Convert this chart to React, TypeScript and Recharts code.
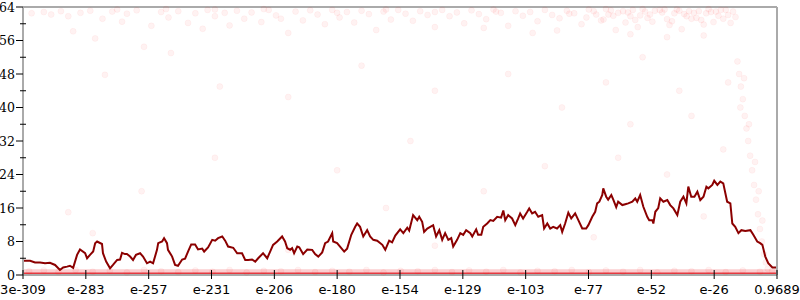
import React from 'react';
import { ComposedChart, Line, Scatter, XAxis, YAxis, ReferenceLine, ReferenceArea } from 'recharts';

const xTickValues = [-308.52, -282.81, -257.1, -231.39, -205.68, -179.98, -154.27, -128.56, -102.85, -77.14, -51.43, -25.72, -0.0137];
const xTickLabels = ['3e-309', 'e-283', 'e-257', 'e-231', 'e-206', 'e-180', 'e-154', 'e-129', 'e-103', 'e-77', 'e-52', 'e-26', '0.9689'];
const yTickValues = [0, 4, 8, 12, 16, 20, 24, 28, 32, 36, 40, 44, 48, 52, 56, 60, 64];

const linePoints: [number, number][] = [
  [-308.5, 3.4], [-305.6, 3.4], [-303.6, 3.0], [-301.5, 3.0], [-299.5, 2.8], [-297.5, 2.9], [-295.4, 2.4], [-293.4, 1.2], [-292.1, 1.8], [-290.5, 2.0], [-289.3, 2.2], [-288.0, 1.7], [-286.4, 4.8], [-285.2, 6.1], [-283.1, 5.2], [-282.3, 4.0], [-281.1, 4.8], [-279.8, 5.6], [-279.0, 7.6], [-278.2, 8.0], [-276.2, 7.4], [-275.8, 5.2], [-274.5, 3.2], [-272.9, 1.6], [-271.7, 2.4], [-270.0, 3.6], [-268.8, 3.7], [-268.0, 5.3], [-266.8, 5.0], [-266.0, 5.0], [-264.7, 4.4], [-263.5, 3.6], [-262.3, 4.8], [-260.6, 5.2], [-259.4, 4.4], [-257.8, 2.8],
  [-256.5, 3.2], [-255.3, 2.8], [-253.7, 6.0], [-253.2, 7.6], [-251.6, 8.0], [-250.8, 8.8], [-249.6, 7.6], [-249.2, 6.0], [-247.5, 4.4], [-246.3, 2.4], [-245.1, 2.2], [-243.4, 3.7], [-242.2, 3.9], [-241.0, 5.6], [-239.7, 7.3], [-238.1, 7.3], [-236.9, 6.1], [-235.2, 6.3], [-234.4, 5.6], [-232.8, 6.6], [-231.1, 8.4], [-229.9, 8.2], [-228.7, 8.8], [-227.0, 9.2], [-225.8, 8.2], [-224.6, 6.8], [-222.5, 6.5], [-220.9, 5.2], [-218.9, 5.2], [-217.6, 3.6], [-216.4, 3.6], [-214.8, 3.7], [-213.5, 3.2], [-212.3, 4.0], [-210.3, 5.2], [-208.6, 4.0], [-207.4, 5.6],
  [-206.2, 7.2], [-204.5, 8.0], [-202.5, 9.2], [-201.3, 8.0], [-200.4, 6.4], [-199.2, 6.0], [-198.4, 6.4], [-197.6, 5.2], [-196.3, 6.8], [-195.5, 6.6], [-193.9, 5.0], [-192.2, 6.1], [-190.2, 6.0], [-189.0, 5.0], [-187.7, 4.4], [-186.1, 5.4], [-184.9, 7.6], [-183.7, 8.0], [-182.0, 10.0], [-181.6, 8.0], [-180.0, 7.6], [-178.8, 6.8], [-177.1, 5.6], [-175.9, 6.3], [-174.2, 9.6], [-172.6, 11.5], [-171.8, 12.3], [-170.6, 11.5], [-169.3, 9.2], [-167.7, 10.7], [-166.5, 9.2], [-165.2, 8.4], [-163.6, 8.2], [-161.5, 7.2], [-160.3, 6.0], [-158.7, 8.2], [-157.5, 7.8], [-156.2, 9.4],
  [-154.2, 10.9], [-152.9, 10.0], [-151.3, 11.3], [-150.5, 10.6], [-148.9, 14.3], [-147.2, 13.1], [-146.4, 13.9], [-145.2, 12.7], [-144.4, 10.3], [-143.1, 11.1], [-141.9, 11.5], [-140.7, 11.9], [-139.5, 9.2], [-138.2, 10.7], [-137.0, 8.4], [-135.8, 10.0], [-134.5, 8.4], [-133.3, 8.8], [-132.5, 6.8], [-130.9, 8.4], [-129.6, 10.0], [-128.4, 9.6], [-127.2, 10.7], [-125.5, 10.0], [-124.7, 9.2], [-123.1, 10.9], [-122.3, 9.6], [-121.0, 9.6], [-120.2, 11.5], [-118.6, 12.3], [-117.3, 13.1], [-116.1, 12.9], [-114.5, 13.9], [-112.9, 13.7], [-112.0, 15.4], [-111.2, 13.1], [-110.0, 14.3], [-108.4, 13.5], [-107.1, 11.9], [-105.9, 13.5],
  [-105.1, 14.7], [-103.9, 13.5], [-102.2, 15.1], [-101.4, 15.9], [-100.2, 14.7], [-99.0, 15.1], [-97.7, 13.9], [-96.1, 14.3], [-95.3, 11.1], [-94.0, 12.3], [-92.8, 11.1], [-91.6, 11.5], [-90.0, 11.1], [-88.7, 11.9], [-87.9, 10.3], [-86.7, 12.3], [-85.4, 14.9], [-84.2, 13.5], [-82.6, 14.7], [-81.3, 13.1], [-79.7, 11.1], [-78.1, 11.1], [-77.2, 11.9], [-75.6, 13.9], [-74.4, 15.1], [-73.6, 17.1], [-72.7, 17.5], [-71.5, 19.1], [-71.1, 20.7], [-69.9, 18.7], [-69.1, 18.0], [-67.8, 19.1], [-67.0, 18.0], [-65.8, 16.2], [-65.0, 17.5], [-63.3, 16.7], [-62.1, 16.9], [-60.9, 17.1], [-59.2, 17.5], [-58.0, 18.3], [-57.2, 17.5], [-56.0, 19.1], [-54.7, 16.3], [-53.1, 13.9], [-52.3, 13.1],
  [-51.0, 13.1], [-50.6, 12.3], [-49.8, 15.1], [-48.6, 16.0], [-47.8, 18.3], [-46.5, 17.5], [-44.9, 17.9], [-43.7, 16.7], [-42.4, 15.9], [-40.8, 14.3], [-39.6, 17.5], [-38.3, 18.7], [-37.1, 17.1], [-36.3, 21.1], [-35.1, 18.7], [-33.8, 18.7], [-32.6, 19.9], [-31.4, 17.9], [-30.1, 18.7], [-28.9, 21.1], [-28.1, 20.7], [-26.5, 21.5], [-25.7, 22.5], [-24.4, 21.5], [-23.2, 22.3], [-22.0, 21.9], [-20.4, 17.5], [-19.1, 17.1], [-18.3, 12.3], [-17.1, 11.5], [-15.8, 10.0], [-14.6, 10.7], [-13.0, 10.5], [-10.9, 10.7], [-9.7, 9.6], [-8.1, 8.0], [-6.9, 7.6], [-6.0, 7.2], [-4.8, 4.4], [-3.6, 2.8], [-1.9, 1.8], [-0.0137, 1.8],
];

const topDots: [number, number][] = [
  [-305, 62.5], [-300, 62.8], [-297, 62.2], [-293, 63], [-290, 61.8], [-288, 58.2], [-285, 62.6], [-281, 63.1], [-279, 56.5], [-276, 61.2], [-272, 62.9], [-268, 60.5], [-266, 62.4], [-262, 63.2], [-259, 54.5], [-256, 59.5], [-252, 62.8], [-249, 61.5], [-245, 63], [-241, 60.2], [-238, 62.5], [-235, 58.8], [-233, 63.3], [-230, 61.8], [-226, 62.6], [-224, 59.6], [-221, 63.1], [-218, 61.2], [-215, 62.7], [-211, 60.4], [-208, 63.3], [-205, 62], [-203, 61.2], [-200, 57.8], [-197, 62.9], [-194, 60.8], [-191, 63.2], [-188, 62.2], [-185, 59.9], [-182, 63.3], [-179, 61.5], [-176, 62.8], [-173, 60.3], [-170, 63.1], [-167, 62.3], [-164, 58.5], [-161, 62.9], [-158, 61], [-155, 63.3], [-152, 62.4], [-149, 60.7], [-146, 63], [-143, 62.1], [-140, 59.2], [-137, 63.3], [-134, 61.8], [-131, 62.7], [-128, 60.1], [-125, 63.2], [-122, 62.3], [-119, 61.1], [-116, 63.4], [-113, 62.6], [-110, 59.5], [-107, 63], [-104, 61.9], [-101, 62.8], [-98, 60.6], [-95, 63.3], [-92, 62.1], [-89, 61.3], [-86, 63.1], [-83, 62.5], [-80, 59.9], [-77, 63.4], [-74, 62.2], [-71, 61], [-68, 63.2], [-65, 62.6], [-62, 60.3], [-59, 63.3], [-56, 62], [-53, 61.4], [-50, 63.1], [-47, 62.7], [-44, 59.7], [-41, 63.4], [-38, 62.3], [-35, 61.2], [-32, 63], [-29, 62.5], [-26, 60.4], [-23, 63.3], [-20, 62.1], [-17, 61.6],
  [-78, 61.5], [-75, 63], [-72, 60.8], [-69, 62.2], [-66, 58.5], [-63, 63], [-60, 61.8], [-57, 59.2], [-54, 62.9], [-51, 60.5], [-48, 63.3], [-45, 61.1], [-42, 62.5], [-39, 58.7], [-36, 63], [-33, 61.4], [-30, 59.8], [-27, 62.8], [-24, 61.9], [-21, 63.3], [-19, 60.2], [-60, 57.5], [-45, 56.8], [-30, 57.2], [-90, 58.4], [-100, 57.8], [-120, 59], [-140, 62.8], [-160, 63.4], [-180, 62.6], [-210, 63.5], [-230, 63.4], [-250, 63.5], [-270, 63.4], [-115, 62.9], [-85, 62.4], [-70, 63.5], [-55, 63.5], [-40, 63.1], [-25, 62.9],
  [-67, 61.9], [-61, 62.7], [-58, 60.9], [-52, 62.2], [-46, 63.4], [-43, 60.6], [-37, 61.8], [-34, 62.6], [-31, 60.9], [-28, 63.5], [-22, 61.2], [-18, 62.9],
];

const midDots: [number, number][] = [
  [-275, 47.8], [-248, 53], [-228, 45], [-200, 42.5], [-170, 50], [-140, 44], [-110, 48], [-88, 40], [-70, 46], [-55, 52], [-40, 44], [-22, 30], [-260, 20], [-290, 15], [-230, 28], [-180, 25], [-150, 32], [-120, 20], [-95, 26], [-60, 36], [-45, 24], [-30, 14], [-140, 7], [-200, 6], [-280, 10], [-160, 16], [-75, 9], [-35, 38], [-65, 28], [-20, 46],
];

const streakDots: [number, number][] = [
  [-16.2, 51], [-15.5, 48], [-14.8, 45], [-14, 42], [-13.2, 38], [-12.5, 35], [-11.8, 32], [-11, 28.5], [-10.2, 25], [-9.4, 21.5], [-8.6, 18], [-7.8, 14.5], [-7, 11], [-6.2, 8], [-5.4, 5], [-4.6, 3], [-3.8, 1.5], [-15, 40], [-13.5, 47], [-11.5, 36], [-9, 27], [-7.5, 20], [-6, 13],
];

const bottomDots: [number, number][] = [
  [-306, 0.9], [-300, 1.1], [-294, 0.7], [-287, 1.2], [-280, 0.8], [-273, 1.0], [-266, 0.6], [-259, 1.2], [-252, 0.9], [-245, 0.7], [-238, 1.1], [-231, 0.8], [-224, 1.2], [-217, 0.6], [-210, 1.0], [-203, 0.9], [-196, 1.2], [-189, 0.7], [-182, 1.0], [-175, 0.8], [-168, 1.2], [-161, 0.6], [-154, 1.0], [-147, 0.9], [-140, 1.2], [-133, 0.7], [-126, 1.1], [-119, 0.8], [-112, 1.2], [-105, 0.6], [-98, 1.0], [-91, 0.9], [-84, 1.2], [-77, 0.7], [-70, 1.1], [-63, 0.8], [-56, 1.2], [-49, 0.6], [-42, 1.0], [-35, 0.9], [-28, 1.2], [-21, 0.7], [-14, 1.1], [-7, 0.8], [-2, 1.0],
];

const bottomBand: [number, number][] = [[-308.52, 0.3], [-0.0137, 0.3]];

const toObjs = (arr: [number, number][]) => arr.map(([x, y]) => ({ x, y }));

const Dot = (p: any) => (
  <circle cx={p.cx} cy={p.cy} r={3} fill="#ff0000" fillOpacity={0.05} stroke="#ff0000" strokeOpacity={0.04} strokeWidth={1} />
);

const LeftTick = (p: any) => {
  const { x, y, payload } = p;
  const v = payload.value;
  const major = v % 8 === 0;
  return (
    <g>
      {major ? (
        <line x1={x - 7} x2={x} y1={y} y2={y} stroke="#000" strokeWidth={1} />
      ) : (
        <line x1={x - 3} x2={x + 3} y1={y} y2={y} stroke="#000" strokeWidth={1} />
      )}
      {major && (
        <text x={x - 8} y={y} dy={4.5} textAnchor="end" fontFamily="DejaVu Serif" fontSize={12.5} fill="#000">
          {v}
        </text>
      )}
    </g>
  );
};

const RightTick = (p: any) => {
  const { x, y, payload } = p;
  const major = payload.value % 8 === 0;
  const h = major ? 6 : 3;
  return <line x1={x - h} x2={x + h} y1={y} y2={y} stroke="#000" strokeWidth={1} />;
};

const BottomTick = (p: any) => {
  const { x, y, index } = p;
  return (
    <g>
      <line x1={x} x2={x} y1={y - 5} y2={y + 4} stroke="#000" strokeWidth={1} />
      <text x={x} y={y + 19} textAnchor="middle" fontFamily="DejaVu Sans" fontSize={13} fill="#000">
        {xTickLabels[index] ?? ''}
      </text>
    </g>
  );
};

export default function App() {
  return (
    <div style={{ position: 'absolute', left: 0, top: 0, width: 800, height: 300, background: '#fff' }}>
      <ComposedChart width={800} height={300} margin={{ top: 7, right: 0, bottom: 0, left: 0 }}>
        <XAxis
          type="number"
          dataKey="x"
          domain={[-308.52, -0.0137]}
          ticks={xTickValues}
          interval={0}
          allowDataOverflow
          height={25}
          tickSize={0}
          tickMargin={0}
          tickLine={false}
          axisLine={{ stroke: '#aaa', strokeWidth: 2 }}
          tick={<BottomTick />}
        />
        <YAxis
          yAxisId="l"
          type="number"
          domain={[0, 64]}
          ticks={yTickValues}
          interval={0}
          width={23}
          tickSize={0}
          tickMargin={0}
          tickLine={false}
          axisLine={{ stroke: '#aaa', strokeWidth: 2 }}
          tick={<LeftTick />}
        />
        <YAxis
          yAxisId="r"
          orientation="right"
          type="number"
          domain={[0, 64]}
          ticks={yTickValues}
          interval={0}
          width={23}
          tickSize={0}
          tickMargin={0}
          tickLine={false}
          axisLine={{ stroke: '#aaa', strokeWidth: 2 }}
          tick={<RightTick />}
        />
        <ReferenceLine yAxisId="l" y={64} stroke="#aaa" strokeWidth={2} />
        <ReferenceArea yAxisId="l" y1={0.45} y2={1.4} fill="#fbcfd1" fillOpacity={1} stroke="none" />
        <Scatter yAxisId="l" data={toObjs(topDots)} dataKey="y" shape={Dot} isAnimationActive={false} />
        <Scatter yAxisId="l" data={toObjs(midDots)} dataKey="y" shape={Dot} isAnimationActive={false} />
        <Scatter yAxisId="l" data={toObjs(streakDots)} dataKey="y" shape={Dot} isAnimationActive={false} />
        <Scatter yAxisId="l" data={toObjs(bottomDots)} dataKey="y" shape={Dot} isAnimationActive={false} />
        <Line yAxisId="l" data={toObjs(bottomBand)} dataKey="y" type="linear" stroke="#e53a41" strokeWidth={2.5} dot={false} activeDot={false} isAnimationActive={false} />
        <Line yAxisId="l" data={toObjs(linePoints)} dataKey="y" type="linear" stroke="#8b0000" strokeWidth={2} dot={false} activeDot={false} isAnimationActive={false} />
      </ComposedChart>
    </div>
  );
}
